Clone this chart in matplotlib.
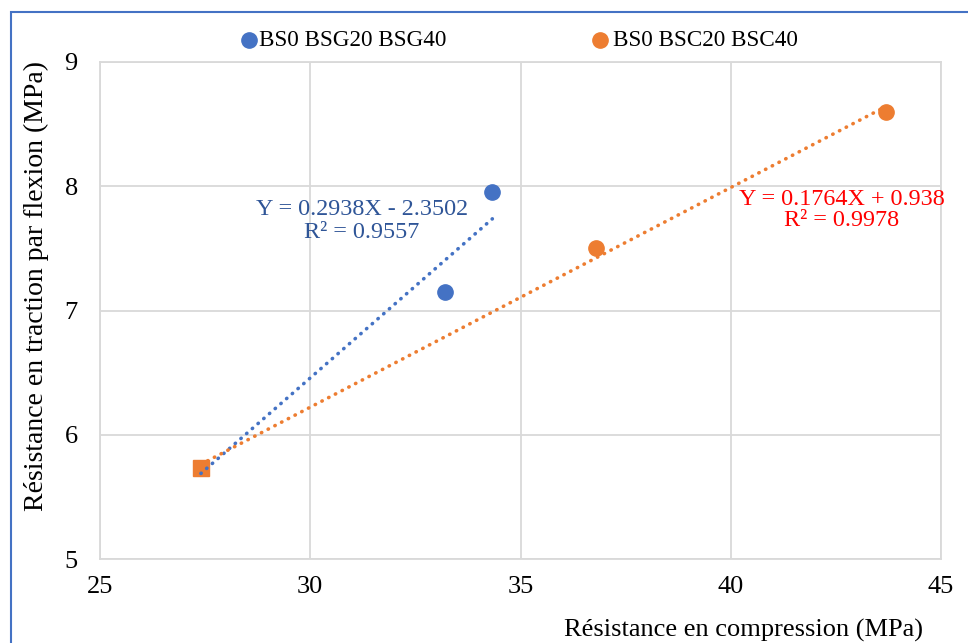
import numpy as np
import matplotlib
matplotlib.use("Agg")
import matplotlib.pyplot as plt
from matplotlib.patches import Rectangle
from matplotlib.lines import Line2D

plt.rcParams['font.family'] = ['Liberation Serif', 'DejaVu Serif']

# Data
g_labels = "BS0 BSG20 BSG40"
c_labels = "BS0 BSC20 BSC40"
g_x = [27.4, 33.2, 34.33]
g_y = [5.73, 7.15, 7.95]
c_x = [27.4, 36.8, 43.7]
c_y = [5.73, 7.50, 8.60]
g_eq = "Y = 0.2938X - 2.3502\nR² = 0.9557"
c_eq = "Y = 0.1764X + 0.938\nR² = 0.9978"

blue = "#4472C4"
orange = "#ED7D31"
W, H = 968, 643

fig = plt.figure(figsize=(W/100, H/100), dpi=100)
ax = fig.add_axes([100/W, 1-559/H, 841/W, 497/H])

ax.set_xlim(25, 45)
ax.set_ylim(5, 9)
ax.set_xticks([25, 30, 35, 40, 45])
ax.set_yticks([5, 6, 7, 8, 9])
ax.grid(True, color="#D9D9D9", lw=1.3)
ax.set_axisbelow(True)
for s in ax.spines.values():
    s.set_color("#D9D9D9")
    s.set_linewidth(1.3)
ax.tick_params(length=0, labelsize=19, colors="#000000")
ax.tick_params(axis='x', pad=12)
ax.tick_params(axis='y', pad=16)

# trendlines
for xs, ys, col in [(g_x, g_y, blue), (c_x, c_y, orange)]:
    k, b = np.polyfit(xs, ys, 1)
    xx = np.array([min(xs), max(xs)])
    ax.plot(xx, k*xx + b, color=col, lw=2.6, linestyle=(0, (0.1, 2.0)),
            dash_capstyle='round', zorder=5)

ax.plot(g_x, g_y, 'o', color=blue, ms=11, zorder=4)
ax.plot(c_x[1:], c_y[1:], 'o', color=orange, ms=11, zorder=4)
ax.plot(c_x[:1], c_y[:1], 's', color=orange, ms=11, zorder=4.5)

# equations
fig.text(362/W, 1-221/H, g_eq, color="#2F5597", fontsize=17.4, ha='center',
         va='center', linespacing=1.1)
fig.text(842/W, 1-210/H, c_eq, color="#FF0000", fontsize=17.4, ha='center',
         va='center', linespacing=1.05)

# axis titles
fig.text(36/W, 1-286/H, "Résistance en traction par flexion (MPa)", rotation=90,
         fontsize=20, ha='center', va='center')
fig.text(743.5/W, 1-630/H, "Résistance en compression (MPa)", fontsize=19,
         ha='center', va='center')

# legend (manual entries)
for mx, tx, col, lab in [(249, 259, blue, g_labels), (600, 613, orange, c_labels)]:
    fig.add_artist(Line2D([mx/W], [1-40/H], marker='o', ls='', color=col, ms=11,
                          transform=fig.transFigure))
    fig.text(tx/W, 1-40/H, lab, fontsize=16.7, ha='left', va='center')

# border
fig.patches.append(Rectangle((10.5/W, -0.1), 1.2, 1.1 - 12.5/H,
                             transform=fig.transFigure, fill=False,
                             edgecolor=blue, lw=1.5))

fig.savefig("out.png", dpi=100)
